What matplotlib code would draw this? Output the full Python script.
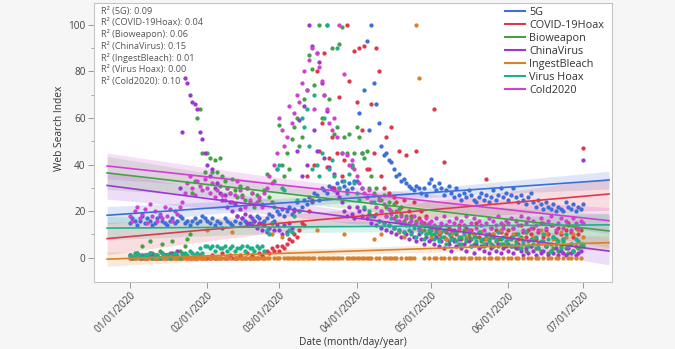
import numpy as np
import matplotlib
matplotlib.use("Agg")
import matplotlib.pyplot as plt
import matplotlib.dates as mdates
from matplotlib.lines import Line2D

plt.rcParams['font.family'] = ['Open Sans', 'DejaVu Sans']

# ---------------- data ----------------
first_day = np.datetime64('2020-01-01')
last_day = np.datetime64('2020-07-01')
dates = np.arange(first_day, last_day + np.timedelta64(1, 'D'), dtype='datetime64[D]')

series_names = ['5G', 'COVID-19Hoax', 'Bioweapon', 'ChinaVirus', 'IngestBleach', 'Virus Hoax', 'Cold2020']
series_colors = ['#3d6fd8', '#e0384b', '#42a345', '#9a38d0', '#d98128', '#1fb08b', '#d23fd2']
r2_values = [0.09, 0.04, 0.06, 0.15, 0.01, 0.00, 0.10]

tick_dates = ['2020-01-01', '2020-02-01', '2020-03-01', '2020-04-01', '2020-05-01', '2020-06-01', '2020-07-01']
y_ticks = [0, 20, 40, 60, 80, 100]

search_5g = [
    15,17,16,14,16,18,15,17,16,14, 15,17,18,16,15,14,16,17,15,16, 18,17,15,16,14,16,17,15,16,18, 17,
    16,15,17,14,16,15,13,17,16,15, 14,16,18,15,17,16,14,15,17,16, 18,17,15,16,17,19,18,16,20,
    19,21,18,20,22,19,21,24,20,22, 25,23,26,24,28,27,25,30,29,28, 31,30,29,32,30,33,31,29,32,30, 33,
    33,62,45,72,93,55,100,75,66,58, 48,44,45,42,41,38,35,36,33,34, 32,31,30,29,31,30,28,30,27,32,
    34,31,29,32,30,27,29,31,28,26, 30,27,25,28,26,29,27,25,24,26, 28,25,27,24,26,29,25,27,30,26, 28,
    25,27,30,26,24,27,25,23,26,28, 24,22,25,23,21,24,22,21,23,20, 22,21,20,24,22,21,23,20,22,21,
    23]

search_covid_hoax = [
    0,0,0,1,0,0,0,0,1,0, 0,0,0,0,0,1,0,0,0,0, 0,0,1,0,0,0,0,0,1,0, 0,
    0,0,1,0,0,0,2,0,0,1, 0,0,0,1,0,0,2,0,1,0, 0,2,1,0,3,2,4,3,5,
    3,5,4,6,8,7,10,9,12,15, 14,35,20,25,40,80,46,58,88,39, 43,52,30,45,69,35,42,100,76,40, 89,
    67,90,55,91,38,38,66,45,90,80, 35,30,52,28,56,26,24,46,22,25, 44,20,18,24,46,17,20,15,18,14,
    13,64,12,10,14,41,11,13,9,12, 10,14,8,11,13,9,12,10,15,9, 11,8,34,10,13,9,12,8,11,14, 10,
    12,9,13,10,8,14,11,9,12,10, 13,8,11,15,9,12,10,14,9,11, 13,10,8,12,15,11,9,13,10,12,
    47]

search_bioweapon = [
    1,0,2,1,0,5,1,0,7,2, 1,0,3,6,1,0,2,7,1,0, 3,2,5,8,10,28,33,60,64,45, 37,
    45,43,37,42,37,43,35,33,30,28, 34,29,26,31,27,25,30,24,28,22, 27,25,23,29,36,26,24,33,38,
    57,40,35,45,38,51,56,60,48,52, 68,72,87,81,74,88,100,60,70,100, 68,90,53,56,92,99,52,45,53,39, 45,
    56,52,45,43,46,30,35,28,30,26, 25,27,22,24,20,23,18,21,19,16, 18,15,17,14,16,13,15,12,14,11,
    12,10,13,8,11,9,12,7,10,8, 11,6,9,12,7,10,8,6,9,11, 7,5,9,8,6,10,7,5,8,6, 9,
    6,8,5,7,4,9,6,3,7,5, 8,4,6,3,7,5,2,6,4,8, 3,5,7,4,2,6,3,5,4,6,
    5]

search_china_virus = [
    1,0,1,2,0,1,0,1,2,1, 0,1,0,2,1,1,0,2,1,3, 30,54,77,75,70,67,66,64,54,51, 45,
    40,35,38,30,32,28,25,27,22,24, 20,23,18,21,17,19,15,18,14,16, 13,15,12,14,11,13,15,12,14,
    12,10,14,11,15,13,20,46,59,35, 65,40,100,91,55,46,84,75,43,63, 39,30,36,28,26,24,20,18,22,19, 17,
    22,20,18,21,17,19,15,18,14,16, 13,15,12,14,11,13,10,12,9,11, 10,8,11,9,7,10,8,6,9,7,
    8,6,9,5,7,4,8,6,3,7, 5,8,4,6,3,7,5,2,6,4, 5,3,6,2,4,5,3,6,2,4, 5,
    3,5,2,4,6,3,1,4,2,5, 3,1,4,2,3,5,1,3,2,4, 1,3,2,1,4,2,3,1,2,3,
    42]

search_ingest_bleach = [
    0,0,0,0,0,0,0,0,0,0, 0,0,0,0,0,0,0,0,0,0, 0,0,0,0,0,0,0,0,0,0, 0,
    12,0,0,0,0,0,0,0,0,0, 11,0,0,0,0,0,0,0,0,0, 0,0,0,0,0,0,10,0,0,
    0,9,0,0,0,0,0,0,0,0, 0,0,0,0,0,12,0,0,0,0, 0,0,0,0,0,0,10,0,0,0, 0,
    0,0,0,0,0,0,0,8,0,0, 10,0,0,0,0,0,0,11,0,9, 0,0,0,0,100,77,12,0,10,0,
    9,0,0,11,0,0,8,0,10,0, 0,12,0,0,9,0,0,10,0,0, 11,0,8,0,0,10,0,0,12,0, 9,
    0,0,10,0,0,8,0,11,0,0, 9,0,0,12,0,10,0,0,8,0, 0,11,0,9,0,0,10,0,12,0,
    9]

search_virus_hoax = [
    1,0,1,2,1,0,1,1,2,0, 1,1,0,2,1,1,0,1,2,1, 0,1,2,1,3,2,1,2,4,2, 5,
    5,4,5,3,5,4,4,5,3,4, 5,3,4,4,5,3,5,4,4,3, 5,4,5,3,12,10,15,22,38,
    40,30,29,10,12,11,18,25,20,60, 56,64,48,38,70,40,35,45,60,100, 38,42,35,90,30,45,33,28,36,40, 32,
    28,25,30,22,26,20,18,24,19,16, 20,15,18,14,17,13,16,12,15,11, 14,12,10,13,9,12,11,8,10,12,
    10,8,11,7,9,12,6,10,8,11, 7,9,6,10,8,12,5,9,7,11, 8,6,10,7,9,5,8,11,6,9, 7,
    8,5,9,6,10,4,7,11,5,8, 6,9,4,7,10,5,8,3,9,6, 7,4,8,10,5,6,3,8,7,5,
    6]

search_cold2020 = [
    18,16,20,22,17,19,21,15,23,18, 20,16,19,17,22,18,21,16,20,19, 22,24,28,32,35,30,27,33,31,29, 34,
    30,28,32,26,29,31,27,25,30,28, 24,27,33,29,26,22,30,25,28,23, 24,26,22,28,30,35,32,40,45,
    60,55,48,52,65,58,62,70,67,75, 80,72,85,90,64,88,82,76,70,64, 58,55,60,52,100,45,79,44,40,42, 38,
    35,32,30,28,26,29,24,27,22,25, 20,23,18,21,19,17,20,16,18,15, 17,14,16,18,15,13,16,14,17,15,
    16,14,17,13,15,18,14,16,12,15, 17,13,16,14,18,12,15,17,13,16, 14,12,15,17,13,16,14,18,15,13, 16,
    15,17,13,16,14,18,12,15,17,13, 16,14,12,17,15,13,16,18,14,12, 15,17,13,16,14,12,17,15,13,16,
    15]

all_series = [search_5g, search_covid_hoax, search_bioweapon, search_china_virus,
              search_ingest_bleach, search_virus_hoax, search_cold2020]
for nm, s in zip(series_names, all_series):
    if len(s) != len(dates):
        raise ValueError(f"{nm}: {len(s)} values vs {len(dates)} dates")

# ---------------- figure ----------------
W, H = 675, 349
fig = plt.figure(figsize=(W / 100, H / 100), dpi=100, facecolor='#f6f6f6')
ax_l, ax_r, ax_t, ax_b = 94, 612, 3, 282
ax = fig.add_axes([ax_l / W, 1 - ax_b / H, (ax_r - ax_l) / W, (ax_b - ax_t) / H])
ax.set_facecolor('white')

x = mdates.date2num(dates)
n = len(x)
xm = x.mean()
sxx = ((x - xm) ** 2).sum()
xf = np.linspace(x[0] - 9.2, x[-1] + 10.4, 300)
tcrit = 1.973

for i, (nm, vals, col) in enumerate(zip(series_names, all_series, series_colors)):
    y = np.asarray(vals, dtype=float)
    slope, intercept = np.polyfit(x, y, 1)
    resid = y - (slope * x + intercept)
    s = np.sqrt((resid ** 2).sum() / (n - 2))
    yf = slope * xf + intercept
    half = tcrit * s * np.sqrt(1.0 / n + (xf - xm) ** 2 / sxx)
    ax.fill_between(xf, yf - half, yf + half, color=col, alpha=0.17, lw=0, zorder=1)
    ax.scatter(x, y, s=9.5, color=col, linewidths=0, zorder=2 + i * 0.01)
    ax.plot(xf, yf, color=col, lw=1.2, zorder=3)

x0 = mdates.date2num(first_day)
ax.set_xlim(x0 - 14.46, x0 + 193.6)
ax.set_ylim(-10.4, 109.4)

ax.set_xticks(mdates.date2num(np.array(tick_dates, dtype='datetime64[D]')))
ax.xaxis.set_major_formatter(mdates.DateFormatter('%m/%d/%Y'))
ax.set_yticks(y_ticks)
ax.set_yticks([10, 30, 50, 70, 90], minor=True)

for sp in ax.spines.values():
    sp.set_color('#c4c4c4')
    sp.set_linewidth(0.8)

ax.tick_params(axis='both', which='major', direction='out', length=4.5, width=0.7,
               color='#9a9a9a', labelcolor='#444444', labelsize=7.2, pad=1.5)
ax.tick_params(axis='y', which='minor', direction='out', length=2.5, width=0.6, color='#9a9a9a')
plt.setp(ax.get_xticklabels(), rotation=45, ha='right', va='top', rotation_mode='anchor')

ax.set_xlabel('Date (month/day/year)', fontsize=7.3, color='#333333')
ax.xaxis.set_label_coords(0.5, (ax_b - 342) / (ax_b - ax_t))
ax.xaxis.label.set_va('center')
ax.set_ylabel('Web Search Index', fontsize=7.3, color='#333333')
ax.yaxis.set_label_coords((60 - ax_l) / (ax_r - ax_l), (ax_b - 128) / (ax_b - ax_t))
ax.yaxis.label.set_va('center')

# R² annotations
for i, (nm, r2) in enumerate(zip(series_names, r2_values)):
    ypx = 11 + 11.67 * i
    ax.text((101 - ax_l) / (ax_r - ax_l), (ax_b - ypx) / (ax_b - ax_t),
            f"R\u00b2 ({nm}): {r2:.2f}", transform=ax.transAxes,
            fontsize=6.6, color='#555555', va='center', ha='left', zorder=5)

handles = [Line2D([0], [0], color=c, lw=1.5) for c in series_colors]
ax.legend(handles, series_names, loc='upper right',
          bbox_to_anchor=(1 - 8 / (ax_r - ax_l), 1 - 4 / (ax_b - ax_t)),
          frameon=False, fontsize=7.8, handlelength=1.9, handletextpad=0.35,
          labelspacing=0.18, borderpad=0, borderaxespad=0, labelcolor='#333333')

fig.savefig('out.png', dpi=100, facecolor=fig.get_facecolor())
